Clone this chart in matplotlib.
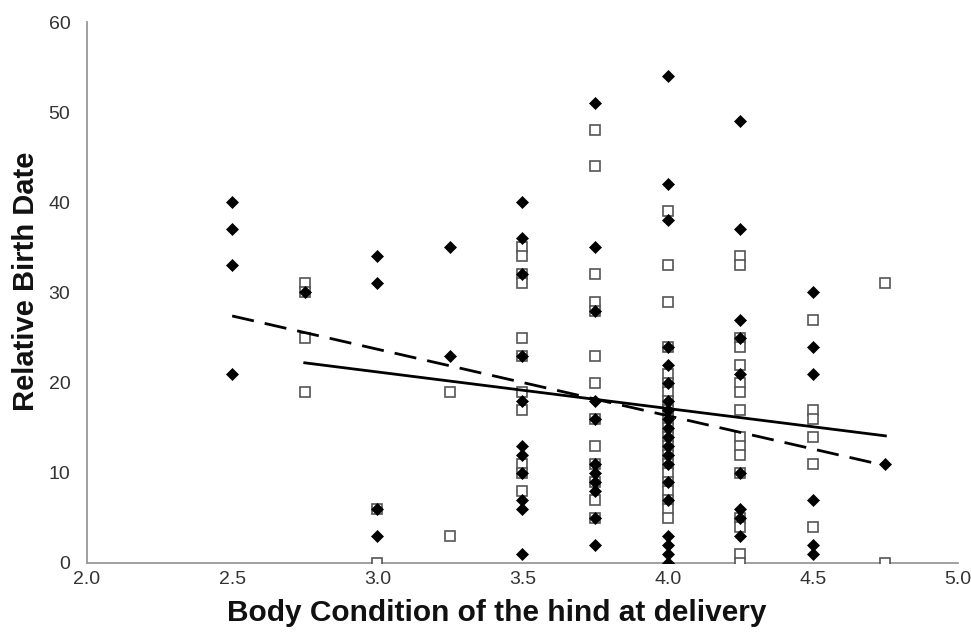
import numpy as np
import matplotlib
matplotlib.use("Agg")
import matplotlib.pyplot as plt

plt.rcParams['font.family'] = ['Liberation Sans', 'DejaVu Sans']

# Filled diamonds (dashed trend line)
diamond_x = ([2.5]*4 + [2.75]*1 + [3.0]*4 + [3.25]*2 + [3.5]*11 + [3.75]*11 +
             [4.0]*20 + [4.25]*9 + [4.5]*6 + [4.75]*1)
diamond_y = [40, 37, 33, 21,
             30,
             34, 31, 6, 3,
             35, 23,
             40, 36, 32, 23, 18, 13, 12, 10, 7, 6, 1,
             51, 35, 28, 18, 16, 11, 10, 9, 8, 5, 2,
             54, 42, 38, 24, 22, 20, 18, 17, 16, 15, 14, 13, 12, 11, 9, 7, 3, 2, 1, 0,
             49, 37, 27, 25, 21, 10, 6, 5, 3,
             30, 24, 21, 7, 2, 1,
             11]

# Open squares (solid trend line)
square_x = ([2.75]*4 + [3.0]*2 + [3.25]*2 + [3.5]*11 + [3.75]*13 +
            [4.0]*21 + [4.25]*16 + [4.5]*6 + [4.75]*2)
square_y = [31, 30, 25, 19,
            6, 0,
            19, 3,
            35, 34, 32, 31, 25, 23, 19, 17, 11, 10, 8,
            48, 44, 32, 29, 28, 23, 20, 16, 13, 11, 9, 7, 5,
            39, 33, 29, 24, 21, 20, 19, 18, 17, 16, 15, 14, 13, 12, 11, 10, 9, 8, 7, 6, 5,
            34, 33, 25, 24, 22, 20, 19, 17, 14, 13, 12, 10, 5, 4, 1, 0,
            27, 17, 16, 14, 11, 4,
            31, 0]

# Trend lines (x range, y at ends)
dashed_x = [2.5, 4.75]
dashed_y = [27.4, 10.8]
solid_x = [2.75, 4.75]
solid_y = [22.2, 14.1]

x_ticks = [2.0, 2.5, 3.0, 3.5, 4.0, 4.5, 5.0]
y_ticks = [0, 10, 20, 30, 40, 50, 60]

fig = plt.figure(figsize=(9.71, 6.36), dpi=100)
ax = fig.add_axes([0.0896, 0.1148, 0.897, 0.8506])

ax.plot(square_x, square_y, linestyle='none', marker='s', markersize=7,
        markerfacecolor='white', markeredgecolor='#555555', markeredgewidth=1.2, zorder=3)
ax.plot(diamond_x, diamond_y, linestyle='none', marker='D', markersize=6.5,
        markerfacecolor='black', markeredgecolor='black', markeredgewidth=0.5, zorder=4)

ax.plot(dashed_x, dashed_y, color='black', linewidth=2.0, dashes=(8, 4), zorder=5)
ax.plot(solid_x, solid_y, color='black', linewidth=2.0, zorder=5)

ax.set_xlim(2.0, 5.0)
ax.set_ylim(0, 60)
ax.set_xticks(x_ticks)
ax.set_xticklabels([f"{v:.1f}" for v in x_ticks])
ax.set_yticks(y_ticks)
ax.tick_params(axis='both', length=0, labelsize=14, colors='#333333')
ax.tick_params(axis='y', pad=12)
ax.tick_params(axis='x', pad=6)

for s in ['top', 'right']:
    ax.spines[s].set_visible(False)
for s in ['left', 'bottom']:
    ax.spines[s].set_color('#999999')
    ax.spines[s].set_linewidth(1.3)

ax.set_xlabel('Body Condition of the hind at delivery', fontsize=21.5, fontweight='bold',
              color='#111111', labelpad=8, x=0.47)
ax.set_ylabel('Relative Birth Date', fontsize=21, fontweight='bold', color='#111111',
              labelpad=6, y=0.52)

fig.savefig('out.png', dpi=100)
